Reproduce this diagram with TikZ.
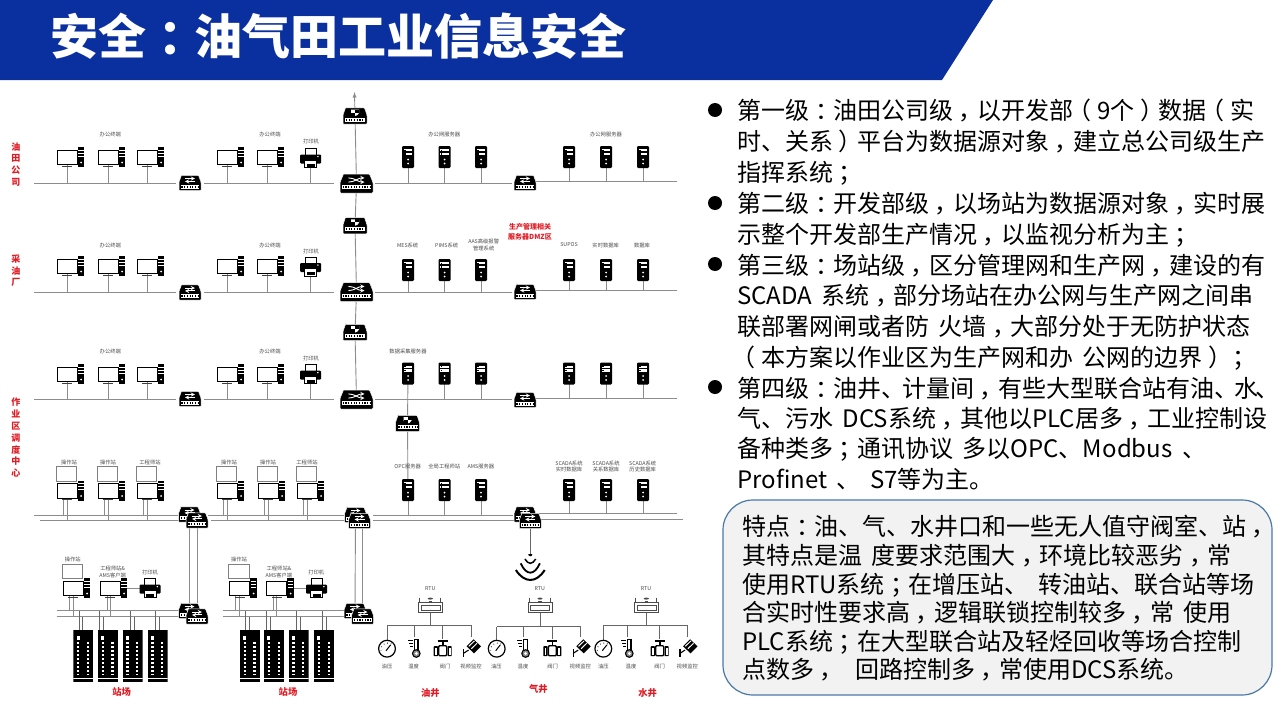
\documentclass[tikz,border=0pt]{standalone}
\usepackage{fontspec}
\setmainfont{Noto Sans CJK SC}
\usepackage{newunicodechar}
\newunicodechar{，}{\kern.24em\char"FF0C\kern-.24em}
\newunicodechar{；}{\kern.24em\char"FF1B\kern-.24em}
\newunicodechar{：}{\kern.26em\char"FF1A\kern-.26em}
\newunicodechar{（}{\kern-.24em\char"FF08\kern.24em}
\newunicodechar{）}{\kern.24em\char"FF09\kern-.24em}
\usepackage{tikz}
\pgfdeclarelayer{edgelayer}
\pgfdeclarelayer{nodelayer}
\pgfsetlayers{edgelayer,nodelayer,main}
\definecolor{headblue}{HTML}{0A2F9E}
\definecolor{wiregrey}{HTML}{8C8C8C}
\definecolor{tagred}{HTML}{E01B24}
\definecolor{tagdark}{HTML}{4A4A4A}
\definecolor{boxfill}{HTML}{F2F2F2}
\definecolor{boxline}{HTML}{4A78A8}
\newcommand{\linefont}{\fontsize{24}{24}\selectfont\spaceskip 9.5pt\relax}
\newcommand{\drawmon}{\filldraw [draw=black, fill=white, line width=1pt] (-10,-7) rectangle (10,7.5);
	\fill [black!75] (-5,8.6) rectangle (5,9.8);}
\newcommand{\drawpc}{\drawmon
	\fill [black] (10.8,-10) rectangle (17.4,10);
	\fill [white] (11.4,-7.4) rectangle (16.8,-6.6);
	\fill [white] (11.4,-4.4) rectangle (16.8,-3.6);
	\fill [white] (11.4,-1.4) rectangle (16.8,-0.6);
	\fill [white] (14.1,5.5) circle [radius=1pt];}
\newcommand{\drawupper}{\filldraw [draw=black!50, fill=white, line width=.7pt] (-11,-24) rectangle (9.5,-9.6);}
\newcommand{\drawprinter}{\filldraw [draw=black, fill=white, line width=.8pt] (-5.5,-9.5) rectangle (5.5,-2);
	\fill [black, rounded corners=1pt] (-10.5,-3.5) rectangle (10.5,5.5);
	\filldraw [draw=black, fill=white, line width=.6pt] (-6,2) rectangle (6,9.5);
	\fill [black] (-4,5.5) rectangle (4,8.8);
	\fill [white] (7.4,-1.4) circle [radius=.8pt];}
\newcommand{\drawserver}{\fill [black, rounded corners=1.2pt] (-6,-11) rectangle (6,11);
	\fill [white] (-4.4,-8) rectangle (4.4,-5.8);
	\fill [white] (-4.4,-4.2) rectangle (4.4,-2);
	\fill [black] (-3.6,-7.5) rectangle (-2.4,-6.3);
	\fill [black] (-3.6,-3.7) rectangle (-2.4,-2.5);
	\fill [white] (0,2.5) circle [radius=1pt];
	\fill [white] (0,6.5) circle [radius=1pt];}
\newcommand{\drawports}[1]{\fill [white] (-#1,1.6) rectangle (#1,5.6);
	\draw [black, line width=1.8pt, dash pattern=on 1.2pt off 1.5pt] (-#1+.8,3.6) to (#1,3.6);}
\newcommand{\drawswitch}{\filldraw [fill=black, draw=white, line width=.5pt, rounded corners=.8pt] (-8.5,-7.7) to (8.5,-7.7) to (11,-1) to (11,7.7) to (-11,7.7) to (-11,-1) to cycle;
	\drawports{9.4}
	\draw [white, line width=.9pt, -stealth] (-5,-4.5) to (5,-4.5);
	\draw [white, line width=.9pt, -stealth] (5,-1.6) to (-5,-1.6);}
\newcommand{\drawrouter}{\filldraw [fill=black, draw=white, line width=.5pt, rounded corners=.8pt] (-13,-9.5) to (13,-9.5) to (16.5,-1) to (16.5,9.5) to (-16.5,9.5) to (-16.5,-1) to cycle;
	\begin{scope}[yshift=-1.4pt]
	\drawports{14.6}
	\end{scope}
	\draw [white, line width=.9pt, -stealth] (-8,-5.6) .. controls (-2,-5.6) and (2,-1.4) .. (8,-1.4);
	\draw [white, line width=.9pt, -stealth] (-8,-1.4) .. controls (-2,-1.4) and (2,-5.6) .. (8,-5.6);}
\newcommand{\drawfirewall}{\filldraw [fill=black, draw=white, line width=.5pt, rounded corners=.8pt] (-9.5,-8.2) to (9.5,-8.2) to (12,-1) to (12,8.2) to (-12,8.2) to (-12,-1) to cycle;
	\drawports{10}
	\fill [white] (-4,-6.4) to (4,-6.4) to (4,-3) .. controls (3.4,-1) and (1.4,-.3) .. (0,0) .. controls (-1.4,-.3) and (-3.4,-1) .. (-4,-3) to cycle;
	\fill [black] (0,-6.4) rectangle (4,-3.4);
	\fill [black] (-4,-3.4) rectangle (0,0);}
\newcommand{\drawcabinet}{\fill [black] (-10,-26) rectangle (10,26);
	\fill [white] (-6.6,-20.4) rectangle (-3.6,-15.6);
	\draw [white, line width=2.2pt, dash pattern=on 2pt off 2pt] (-5,-14) to (-5,19);
	\draw [white, line width=2.2pt, dash pattern=on 2pt off 2pt] (4.6,-14) to (4.6,19);
	\draw [white, line width=.5pt] (-10,22.6) to (10,22.6);}
\newcommand{\drawrtu}{\draw [black!70, line width=.7pt, fill=white] (-12,-2.5) rectangle (12,7.5);
	\draw [black!70, line width=.6pt, fill=white] (-9.5,.5) rectangle (9.5,5.5);
	\draw [black!70, line width=.7pt] (-10.5,-7.5) to (-10.5,-2.5);
	\draw [black!70, line width=.7pt] (10.5,-7.5) to (10.5,-2.5);
	\fill [black!70] (0,-6.4) ellipse [x radius=2.6pt, y radius=1pt];
	\draw [black!70, line width=.6pt] (-1.8,-4.2) to (1.8,-4.2);}
\newcommand{\drawgauge}{\filldraw [draw=black, fill=white, line width=1.2pt] (0,0) circle [radius=8.4pt];
	\draw [black, line width=1pt] (-1,2) to (3.6,-3.8);
	\draw [black, line width=.9pt, dash pattern=on .7pt off 3pt] (-6,2) .. controls (-6.6,-6) and (2,-8.4) .. (6,-3);}
\newcommand{\drawtherm}{\draw [black, line width=1.1pt] (-6,-8) to (-1,-8);
	\draw [black, line width=1.1pt] (-5,-5) to (-1,-5);
	\draw [black, line width=1.1pt] (-4,-2) to (-1,-2);
	\draw [black, line width=1.1pt, fill=white] (.6,2) to (.6,-8.5) to (4,-8.5) to (4,2);
	\filldraw [draw=black, fill=black!45, line width=1.1pt] (2.3,5.2) circle [radius=3.8pt];
	\fill [white] (2.3,5.2) circle [radius=1.5pt];}
\newcommand{\drawvalve}{\draw [black, line width=1.6pt] (-5,-7.5) to (5,-7.5);
	\draw [black, line width=1.6pt] (0,-7.5) to (0,-3);
	\draw [black, line width=1.4pt, fill=white, rounded corners=1pt] (-4,-3) rectangle (4,7);
	\fill [black, rounded corners=.6pt] (-9,-2.5) rectangle (-4.8,7.5);
	\fill [black, rounded corners=.6pt] (4.8,-2.5) rectangle (9,7.5);
	\fill [white] (-7.8,-1) rectangle (-6,6);
	\fill [white] (6,-1) rectangle (7.8,6);}
\newcommand{\drawcamera}{\fill [black] (-4.4,-2) to (2.6,-9) to (10,-2) to (3,5) to cycle;
	\draw [white, line width=1pt] (-2.2,-2) to (3.4,-7.4);
	\draw [white, line width=1pt] (.4,.4) to (6,-5);
	\draw [black, line width=1.1pt] (-7.5,1) to (-7.5,9);
	\draw [black, line width=1.1pt] (-7.5,5) to (-2.5,1.8);}
\newcommand{\drawwifi}{\fill [black] (0,-13.7) circle [radius=2pt];
	\draw [black, line width=1.5pt] (-5.4,-9) .. controls (-2,-3.3) and (2,-3.3) .. (5.4,-9);
	\draw [black, line width=1.8pt] (-9.6,-4.7) .. controls (-4,7.8) and (4,7.8) .. (9.6,-4.7);
	\draw [black, line width=2pt] (-14.4,2) .. controls (-6,15.3) and (6,15.3) .. (14.4,2);}
\tikzset{iconpic/.style={path picture={\begin{scope}[shift={(path picture bounding box.center)}]#1\end{scope}}}}
\tikzstyle{wire}=[draw=wiregrey, line width=.9pt]
\tikzstyle{thinwire}=[draw=black!60, line width=.7pt]
\tikzstyle{icon}=[rectangle, inner sep=0pt, outer sep=0pt]
\tikzstyle{pc}=[icon, minimum width=38pt, minimum height=24pt, iconpic=\drawpc]
\tikzstyle{duopc}=[icon, minimum width=38pt, minimum height=52pt, iconpic={\drawupper\drawpc}]
\tikzstyle{printer}=[icon, minimum width=24pt, minimum height=22pt, iconpic=\drawprinter]
\tikzstyle{server}=[icon, minimum width=14pt, minimum height=24pt, iconpic=\drawserver]
\tikzstyle{switch}=[icon, minimum width=24pt, minimum height=17pt, iconpic=\drawswitch]
\tikzstyle{router}=[icon, minimum width=35pt, minimum height=21pt, iconpic=\drawrouter]
\tikzstyle{firewall}=[icon, minimum width=26pt, minimum height=18pt, iconpic=\drawfirewall]
\tikzstyle{cabinet}=[icon, minimum width=20pt, minimum height=52pt, iconpic=\drawcabinet]
\tikzstyle{rtu}=[icon, minimum width=26pt, minimum height=18pt, iconpic=\drawrtu]
\tikzstyle{gauge}=[icon, minimum width=20pt, minimum height=20pt, iconpic=\drawgauge]
\tikzstyle{therm}=[icon, minimum width=20pt, minimum height=22pt, iconpic=\drawtherm]
\tikzstyle{valve}=[icon, minimum width=20pt, minimum height=20pt, iconpic=\drawvalve]
\tikzstyle{camera}=[icon, minimum width=24pt, minimum height=22pt, iconpic=\drawcamera]
\tikzstyle{wifi}=[icon, minimum width=32pt, minimum height=28pt, iconpic=\drawwifi]
\tikzstyle{tag}=[inner sep=0pt, text=tagdark, align=center, font=\fontsize{5.3}{6.6}\selectfont]
\tikzstyle{redtag}=[inner sep=0pt, text=tagred, align=center, font=\fontsize{7}{9.6}\selectfont\bfseries]
\tikzstyle{sitetag}=[inner sep=0pt, text=tagred, font=\fontsize{9.3}{11}\selectfont\bfseries]
\tikzstyle{leveltag}=[inner sep=0pt, text=tagred, align=center, font=\fontsize{9}{11.8}\selectfont\bfseries]
\tikzstyle{point}=[circle, fill=black, inner sep=0pt, minimum size=14pt]
\tikzstyle{line}=[inner sep=0pt, anchor=base west, font=\linefont]

\begin{document}
\begin{tikzpicture}[x=1pt, y=-1pt]
	\useasboundingbox (0,0) rectangle (1280,720);
	\fill [headblue] (0,0) to (993,0) to (942,80) to (0,80) to cycle;
	\node [inner sep=0pt, anchor=base west, text=white, font=\fontsize{48}{48}\selectfont\bfseries] (title) at (50,54) {安全：油气田工业信息安全};
	% bus ends
	\coordinate (a1) at (34,183);
	\coordinate (b1) at (176,183);
	\coordinate (c1) at (204,183);
	\coordinate (d1) at (334,183);
	\coordinate (e1) at (375,183);
	\coordinate (f1) at (512,183);
	\coordinate (g1) at (536,181);
	\coordinate (h1) at (677,181);
	\coordinate (a2) at (34,292);
	\coordinate (b2) at (176,292);
	\coordinate (c2) at (204,292);
	\coordinate (d2) at (334,292);
	\coordinate (e2) at (375,292);
	\coordinate (f2) at (512,292);
	\coordinate (g2) at (536,290);
	\coordinate (h2) at (677,290);
	\coordinate (a3) at (34,399);
	\coordinate (b3) at (176,399);
	\coordinate (c3) at (204,399);
	\coordinate (d3) at (334,399);
	\coordinate (e3) at (375,399);
	\coordinate (f3) at (512,399);
	\coordinate (g3) at (536,398);
	\coordinate (h3) at (677,398);
	\coordinate (a4) at (34,515);
	\coordinate (b4) at (178,515);
	\coordinate (c4) at (208,515);
	\coordinate (d4) at (344,515);
	\coordinate (e4) at (373,515);
	\coordinate (f4) at (513,515);
	\coordinate (g4) at (535,513.5);
	\coordinate (h4) at (677,513.5);
	\coordinate (a5) at (40,520.7);
	\coordinate (b5) at (186,520.7);
	\coordinate (c5) at (211,520.7);
	\coordinate (d5) at (349,520.7);
	\coordinate (e5) at (373,520.7);
	\coordinate (f5) at (520,520.7);
	\coordinate (g5) at (540,519.3);
	\coordinate (h5) at (683,519.3);
	\coordinate (a6) at (56.7,610.7);
	\coordinate (b6) at (179,610.7);
	\coordinate (c6) at (223.3,610.7);
	\coordinate (d6) at (345,610.7);
	\coordinate (a7) at (56.7,616.7);
	\coordinate (b7) at (187,616.7);
	\coordinate (c7) at (223.3,616.7);
	\coordinate (d7) at (352,616.7);
	\coordinate (top) at (354.5,92);
	\coordinate (j1) at (430.3,625);
	\coordinate (j2) at (540,626.7);
	\coordinate (j3) at (646.3,625.7);
	\coordinate (k1) at (387,625);
	\coordinate (k2) at (471,625);
	\coordinate (m1) at (496.5,626.7);
	\coordinate (m2) at (580.5,626.7);
	\coordinate (n1) at (603.3,625.7);
	\coordinate (n2) at (687.5,625.7);
	\begin{pgfonlayer}{nodelayer}
		% office rows
		\node [style=pc] (pc11) at (67,157) {};
		\node [style=pc] (pc12) at (108,157) {};
		\node [style=pc] (pc13) at (147,157) {};
		\node [style=pc] (pc14) at (227,157) {};
		\node [style=pc] (pc15) at (267,157) {};
		\node [style=printer] (pr1) at (310.5,158) {};
		\node [style=pc] (pc21) at (67,266) {};
		\node [style=pc] (pc22) at (108,266) {};
		\node [style=pc] (pc23) at (147,266) {};
		\node [style=pc] (pc24) at (227,266) {};
		\node [style=pc] (pc25) at (267,266) {};
		\node [style=printer] (pr2) at (310.5,266.5) {};
		\node [style=pc] (pc31) at (67,374) {};
		\node [style=pc] (pc32) at (108,374) {};
		\node [style=pc] (pc33) at (147,374) {};
		\node [style=pc] (pc34) at (227,374) {};
		\node [style=pc] (pc35) at (267,374) {};
		\node [style=printer] (pr3) at (310.5,374) {};
		\node [style=duopc] (pc41) at (67,490.5) {};
		\node [style=duopc] (pc42) at (108,490.5) {};
		\node [style=duopc] (pc43) at (147,490.5) {};
		\node [style=duopc] (pc44) at (227,490.5) {};
		\node [style=duopc] (pc45) at (268,490.5) {};
		\node [style=duopc] (pc46) at (307,490.5) {};
		\node [style=duopc] (pc51) at (73,588) {};
		\node [style=pc] (pc52) at (110,588) {};
		\node [style=printer] (pr5) at (150,588) {};
		\node [style=duopc] (pc53) at (239.5,588) {};
		\node [style=pc] (pc54) at (276.5,588) {};
		\node [style=printer] (pr6) at (316.5,588) {};
		% servers
		\node [style=server] (sv11) at (408,157) {};
		\node [style=server] (sv12) at (444.5,157) {};
		\node [style=server] (sv13) at (481,157) {};
		\node [style=server] (sv14) at (569,157) {};
		\node [style=server] (sv15) at (606,157) {};
		\node [style=server] (sv16) at (643,157) {};
		\node [style=server] (sv21) at (408,270) {};
		\node [style=server] (sv22) at (444.5,270) {};
		\node [style=server] (sv23) at (481,270) {};
		\node [style=server] (sv24) at (569,270) {};
		\node [style=server] (sv25) at (606,270) {};
		\node [style=server] (sv26) at (643,270) {};
		\node [style=server] (sv31) at (408,373.5) {};
		\node [style=server] (sv32) at (444.5,373.5) {};
		\node [style=server] (sv33) at (481,373.5) {};
		\node [style=server] (sv34) at (569,373.5) {};
		\node [style=server] (sv35) at (606,373.5) {};
		\node [style=server] (sv36) at (643,373.5) {};
		\node [style=server] (sv41) at (408,490) {};
		\node [style=server] (sv42) at (444.5,490) {};
		\node [style=server] (sv43) at (481,490) {};
		\node [style=server] (sv44) at (569,490) {};
		\node [style=server] (sv45) at (606,490) {};
		\node [style=server] (sv46) at (643,490) {};
		% network gear
		\node [style=firewall] (fw1) at (355,116) {};
		\node [style=firewall] (fw2) at (355,225.7) {};
		\node [style=firewall] (fw3) at (355,332.5) {};
		\node [style=firewall] (fw4) at (407.5,423.5) {};
		\node [style=router] (rt1) at (356.5,183.5) {};
		\node [style=router] (rt2) at (356.5,292) {};
		\node [style=router] (rt3) at (356.5,399.5) {};
		\node [style=switch] (sw1) at (190,183) {};
		\node [style=switch] (sw2) at (190,292.5) {};
		\node [style=switch] (sw3) at (190,399) {};
		\node [style=switch] (sw4) at (525,183) {};
		\node [style=switch] (sw5) at (525,292) {};
		\node [style=switch] (sw6) at (525,400) {};
		\node [style=switch] (sw71) at (189.5,514.5) {};
		\node [style=switch] (sw72) at (197,520.5) {};
		\node [style=switch] (sw81) at (355.5,515) {};
		\node [style=switch] (sw82) at (359.5,521) {};
		\node [style=switch] (sw91) at (525,514.5) {};
		\node [style=switch] (sw92) at (530.3,521) {};
		\node [style=switch] (sw101) at (189.5,611) {};
		\node [style=switch] (sw102) at (197,616.5) {};
		\node [style=switch] (sw111) at (355,611) {};
		\node [style=switch] (sw112) at (362.5,616.5) {};
		\node [style=wifi] (wf) at (530.3,568) {};
		% cabinets
		\node [style=cabinet] (cb1) at (83.3,656) {};
		\node [style=cabinet] (cb2) at (107.8,656) {};
		\node [style=cabinet] (cb3) at (132.5,656) {};
		\node [style=cabinet] (cb4) at (157.5,656) {};
		\node [style=cabinet] (cb5) at (249.8,656) {};
		\node [style=cabinet] (cb6) at (274,656) {};
		\node [style=cabinet] (cb7) at (298.5,656) {};
		\node [style=cabinet] (cb8) at (324,656) {};
		% wells
		\node [style=rtu] (ru1) at (430.3,605) {};
		\node [style=rtu] (ru2) at (540,605) {};
		\node [style=rtu] (ru3) at (646.3,605) {};
		\node [style=gauge] (ga1) at (387,648.7) {};
		\node [style=therm] (th1) at (414,648.3) {};
		\node [style=valve] (va1) at (442.7,648.7) {};
		\node [style=camera] (ca1) at (471,648.3) {};
		\node [style=gauge] (ga2) at (496.7,648.7) {};
		\node [style=therm] (th2) at (523.3,648.3) {};
		\node [style=valve] (va2) at (552.3,648.7) {};
		\node [style=camera] (ca2) at (580.7,648.3) {};
		\node [style=gauge] (ga3) at (603.3,648.7) {};
		\node [style=therm] (th3) at (627,648.3) {};
		\node [style=valve] (va3) at (659.7,648.7) {};
		\node [style=camera] (ca3) at (687.5,648.3) {};
	\end{pgfonlayer}
	\begin{pgfonlayer}{edgelayer}
		\draw [style=wire] (a1) to (b1);
		\draw [style=wire] (c1) to (d1);
		\draw [style=wire] (e1) to (f1);
		\draw [style=wire] (g1) to (h1);
		\draw [style=wire] (a2) to (b2);
		\draw [style=wire] (c2) to (d2);
		\draw [style=wire] (e2) to (f2);
		\draw [style=wire] (g2) to (h2);
		\draw [style=wire] (a3) to (b3);
		\draw [style=wire] (c3) to (d3);
		\draw [style=wire] (e3) to (f3);
		\draw [style=wire] (g3) to (h3);
		\draw [style=wire] (a4) to (b4);
		\draw [style=wire] (c4) to (d4);
		\draw [style=wire] (e4) to (f4);
		\draw [style=wire] (g4) to (h4);
		\draw [style=wire] (a5) to (b5);
		\draw [style=wire] (c5) to (d5);
		\draw [style=wire] (e5) to (f5);
		\draw [style=wire] (g5) to (h5);
		\draw [style=wire] (a6) to (b6);
		\draw [style=wire] (c6) to (d6);
		\draw [style=wire] (a7) to (b7);
		\draw [style=wire] (c7) to (d7);
		% spine
		\draw [style=wire, -latex] (fw1.center) to (top);
		\draw [style=wire] (fw1.center) to (rt1.center);
		\draw [style=wire] (rt1.center) to (fw2.center);
		\draw [style=wire] (fw2.center) to (rt2.center);
		\draw [style=wire] (rt2.center) to (fw3.center);
		\draw [style=wire] (fw3.center) to (rt3.center);
		\draw [style=wire] (sv31.center) to (fw4.center);
		\draw [style=wire] (fw4.center) to (sv41.center);
		\draw [style=wire] (sw71.center) to (sw101.center);
		\draw [style=wire] (sw72.center) to (sw102.center);
		\draw [style=wire] (sw81.center) to (sw111.center);
		\draw [style=wire] ([xshift=2.5pt]sw82.center) to ([xshift=-.5pt]sw112.center);
		\draw [style=thinwire] (sw92.center) to (wf.north);
		% office stems
		\draw [style=wire] (pc11.center) to (pc11.center |- a1);
		\draw [style=wire] (pc12.center) to (pc12.center |- a1);
		\draw [style=wire] (pc13.center) to (pc13.center |- a1);
		\draw [style=wire] (pc14.center) to (pc14.center |- a1);
		\draw [style=wire] (pc15.center) to (pc15.center |- a1);
		\draw [style=wire] (pr1.center) to (pr1.center |- a1);
		\draw [style=wire] (pc21.center) to (pc21.center |- a2);
		\draw [style=wire] (pc22.center) to (pc22.center |- a2);
		\draw [style=wire] (pc23.center) to (pc23.center |- a2);
		\draw [style=wire] (pc24.center) to (pc24.center |- a2);
		\draw [style=wire] (pc25.center) to (pc25.center |- a2);
		\draw [style=wire] (pr2.center) to (pr2.center |- a2);
		\draw [style=wire] (pc31.center) to (pc31.center |- a3);
		\draw [style=wire] (pc32.center) to (pc32.center |- a3);
		\draw [style=wire] (pc33.center) to (pc33.center |- a3);
		\draw [style=wire] (pc34.center) to (pc34.center |- a3);
		\draw [style=wire] (pc35.center) to (pc35.center |- a3);
		\draw [style=wire] (pr3.center) to (pr3.center |- a3);
		% server stems
		\draw [style=wire] (sv11.center) to (sv11.center |- e1);
		\draw [style=wire] (sv12.center) to (sv12.center |- e1);
		\draw [style=wire] (sv13.center) to (sv13.center |- e1);
		\draw [style=wire] (sv14.center) to (sv14.center |- g1);
		\draw [style=wire] (sv15.center) to (sv15.center |- g1);
		\draw [style=wire] (sv16.center) to (sv16.center |- g1);
		\draw [style=wire] (sv21.center) to (sv21.center |- e2);
		\draw [style=wire] (sv22.center) to (sv22.center |- e2);
		\draw [style=wire] (sv23.center) to (sv23.center |- e2);
		\draw [style=wire] (sv24.center) to (sv24.center |- g2);
		\draw [style=wire] (sv25.center) to (sv25.center |- g2);
		\draw [style=wire] (sv26.center) to (sv26.center |- g2);
		\draw [style=wire] (sv32.center) to (sv32.center |- e3);
		\draw [style=wire] (sv33.center) to (sv33.center |- e3);
		\draw [style=wire] (sv34.center) to (sv34.center |- g3);
		\draw [style=wire] (sv35.center) to (sv35.center |- g3);
		\draw [style=wire] (sv36.center) to (sv36.center |- g3);
		\draw [style=wire] (sv41.center) to (sv41.center |- e4);
		\draw [style=wire] (sv42.center) to (sv42.center |- e4);
		\draw [style=wire] (sv43.center) to (sv43.center |- e4);
		\draw [style=wire] (sv44.center) to (sv44.center |- g4);
		\draw [style=wire] (sv45.center) to (sv45.center |- g4);
		\draw [style=wire] (sv46.center) to (sv46.center |- g4);
		% doubled stems
		\draw [style=wire] ([xshift=-4pt]pc41.center) to ([xshift=-4pt]pc41.center |- a4);
		\draw [style=wire] (pc41.center) to (pc41.center |- a5);
		\draw [style=wire] ([xshift=-4pt]pc42.center) to ([xshift=-4pt]pc42.center |- a4);
		\draw [style=wire] (pc42.center) to (pc42.center |- a5);
		\draw [style=wire] ([xshift=-4pt]pc43.center) to ([xshift=-4pt]pc43.center |- a4);
		\draw [style=wire] (pc43.center) to (pc43.center |- a5);
		\draw [style=wire] ([xshift=-4pt]pc44.center) to ([xshift=-4pt]pc44.center |- a4);
		\draw [style=wire] (pc44.center) to (pc44.center |- a5);
		\draw [style=wire] ([xshift=-4pt]pc45.center) to ([xshift=-4pt]pc45.center |- a4);
		\draw [style=wire] (pc45.center) to (pc45.center |- a5);
		\draw [style=wire] ([xshift=-4pt]pc46.center) to ([xshift=-4pt]pc46.center |- a4);
		\draw [style=wire] (pc46.center) to (pc46.center |- a5);
		\draw [style=wire] ([xshift=-4pt]pc51.center) to ([xshift=-4pt]pc51.center |- a6);
		\draw [style=wire] (pc51.center) to (pc51.center |- a7);
		\draw [style=wire] ([xshift=-3pt]pc52.center) to ([xshift=-3pt]pc52.center |- a6);
		\draw [style=wire] (pc52.center) to (pc52.center |- a7);
		\draw [style=wire] ([xshift=-4pt]pc53.center) to ([xshift=-4pt]pc53.center |- a6);
		\draw [style=wire] (pc53.center) to (pc53.center |- a7);
		\draw [style=wire] ([xshift=-3pt]pc54.center) to ([xshift=-3pt]pc54.center |- a6);
		\draw [style=wire] (pc54.center) to (pc54.center |- a7);
		\draw [style=wire] (pc52.center) to (pr5.center);
		\draw [style=wire] (pc54.center) to (pr6.center);
		% cabinet stems
		\draw [style=thinwire] ([xshift=-4.3pt]cb1.north) to ([xshift=-4.3pt]cb1.north |- a6);
		\draw [style=thinwire] ([xshift=-.6pt]cb1.north) to ([xshift=-.6pt]cb1.north |- a7);
		\draw [style=thinwire] ([xshift=-8pt]cb2.north) to ([xshift=-8pt]cb2.north |- a6);
		\draw [style=thinwire] ([xshift=-4pt]cb2.north) to ([xshift=-4pt]cb2.north |- a7);
		\draw [style=thinwire] ([xshift=-2.2pt]cb3.north) to ([xshift=-2.2pt]cb3.north |- a6);
		\draw [style=thinwire] ([xshift=1.5pt]cb3.north) to ([xshift=1.5pt]cb3.north |- a7);
		\draw [style=thinwire] ([xshift=-2.2pt]cb4.north) to ([xshift=-2.2pt]cb4.north |- a6);
		\draw [style=thinwire] ([xshift=1.5pt]cb4.north) to ([xshift=1.5pt]cb4.north |- a7);
		\draw [style=thinwire] ([xshift=-4.5pt]cb5.north) to ([xshift=-4.5pt]cb5.north |- a6);
		\draw [style=thinwire] ([xshift=-.8pt]cb5.north) to ([xshift=-.8pt]cb5.north |- a7);
		\draw [style=thinwire] ([xshift=-8pt]cb6.north) to ([xshift=-8pt]cb6.north |- a6);
		\draw [style=thinwire] ([xshift=-4pt]cb6.north) to ([xshift=-4pt]cb6.north |- a7);
		\draw [style=thinwire] ([xshift=-2.2pt]cb7.north) to ([xshift=-2.2pt]cb7.north |- a6);
		\draw [style=thinwire] ([xshift=1.8pt]cb7.north) to ([xshift=1.8pt]cb7.north |- a7);
		\draw [style=thinwire] ([xshift=-2pt]cb8.north) to ([xshift=-2pt]cb8.north |- a6);
		\draw [style=thinwire] ([xshift=2pt]cb8.north) to ([xshift=2pt]cb8.north |- a7);
		% well trees
		\draw [style=thinwire] (ru1.center) to (j1);
		\draw [style=thinwire] (ru2.center) to (j2);
		\draw [style=thinwire] (ru3.center) to (j3);
		\draw [style=thinwire] (k1) to (k2);
		\draw [style=thinwire] (m1) to (m2);
		\draw [style=thinwire] (n1) to (n2);
		\draw [style=thinwire] (ga1.center) to (ga1.center |- k1);
		\draw [style=thinwire] (th1.north) to (th1.north |- k1);
		\draw [style=thinwire] (va1.north) to (va1.north |- k1);
		\draw [style=thinwire] (ca1.north) to (ca1.north |- k1);
		\draw [style=thinwire] (ga2.center) to (ga2.center |- m1);
		\draw [style=thinwire] (th2.north) to (th2.north |- m1);
		\draw [style=thinwire] (va2.north) to (va2.north |- m1);
		\draw [style=thinwire] (ca2.north) to (ca2.north |- m1);
		\draw [style=thinwire] (ga3.center) to (ga3.center |- n1);
		\draw [style=thinwire] (th3.north) to (th3.north |- n1);
		\draw [style=thinwire] (va3.north) to (va3.north |- n1);
		\draw [style=thinwire] (ca3.north) to (ca3.north |- n1);
	\end{pgfonlayer}
	% level names
	\node [style=leveltag] (lv1) at (16,164.5) {油\\田\\公\\司};
	\node [style=leveltag] (lv2) at (16,270.7) {采\\油\\厂};
	\node [style=leveltag] (lv3) at (16,437.8) {作\\业\\区\\调\\度\\中\\心};
	% small labels
	\node [style=tag] (l1) at (110.3,134.3) {办公终端};
	\node [style=tag] (l2) at (270,134.3) {办公终端};
	\node [style=tag] (l3) at (311,141.3) {打印机};
	\node [style=tag] (l4) at (444.3,134.3) {办公网服务器};
	\node [style=tag] (l5) at (606,134.3) {办公网服务器};
	\node [style=tag] (l6) at (110.3,245) {办公终端};
	\node [style=tag] (l7) at (270,245) {办公终端};
	\node [style=tag] (l8) at (311,251) {打印机};
	\node [style=tag] (l9) at (407.7,245) {MES系统};
	\node [style=tag] (l10) at (446.7,245) {PIMS系统};
	\node [style=tag] (l11) at (483.7,245) {AAS高级报警\\管理系统};
	\node [style=tag] (l12) at (569,245) {SUPOS};
	\node [style=tag] (l13) at (605.7,245) {实时数据库};
	\node [style=tag] (l14) at (642,245) {数据库};
	\node [style=redtag] (l15) at (530,232) {生产管理相关\\服务器DMZ区};
	\node [style=tag] (l16) at (110.3,351) {办公终端};
	\node [style=tag] (l17) at (270,351) {办公终端};
	\node [style=tag] (l18) at (311,358.7) {打印机};
	\node [style=tag] (l19) at (408,351) {数据采集服务器};
	\node [style=tag] (l20) at (69,462.3) {操作站};
	\node [style=tag] (l21) at (108,462.3) {操作站};
	\node [style=tag] (l22) at (150,462.3) {工程师站};
	\node [style=tag] (l23) at (229,462.3) {操作站};
	\node [style=tag] (l24) at (268,462.3) {操作站};
	\node [style=tag] (l25) at (307,462.3) {工程师站};
	\node [style=tag] (l26) at (407.7,466.7) {OPC服务器};
	\node [style=tag] (l27) at (444.3,466.7) {全局工程师站};
	\node [style=tag] (l28) at (481,466.7) {AMS服务器};
	\node [style=tag] (l29) at (569,466.4) {SCADA系统\\实时数据库};
	\node [style=tag] (l30) at (606,466.4) {SCADA系统\\关系数据库};
	\node [style=tag] (l31) at (642.7,466.4) {SCADA系统\\历史数据库};
	\node [style=tag] (l32) at (72.7,559) {操作站};
	\node [style=tag] (l33) at (112.7,571.8) {工程师站\&\\AMS客户端};
	\node [style=tag] (l34) at (150,572.3) {打印机};
	\node [style=tag] (l35) at (239,559) {操作站};
	\node [style=tag] (l36) at (279,571.8) {工程师站\&\\AMS客户端};
	\node [style=tag] (l37) at (316.3,572.3) {打印机};
	\node [style=sitetag] (s1) at (121.7,692) {站场};
	\node [style=sitetag] (s2) at (288,692) {站场};
	\node [style=sitetag] (s3) at (430.3,692.7) {油井};
	\node [style=sitetag] (s4) at (538.3,689) {气井};
	\node [style=sitetag] (s5) at (647.7,692.7) {水井};
	\node [style=tag] (r1) at (430.3,588.3) {RTU};
	\node [style=tag] (r2) at (539.7,588.3) {RTU};
	\node [style=tag] (r3) at (646,588.3) {RTU};
	\node [style=tag] (w1) at (387,666) {油压};
	\node [style=tag] (w2) at (413.7,666) {温度};
	\node [style=tag] (w3) at (445,666) {阀门};
	\node [style=tag] (w4) at (471,666) {视频监控};
	\node [style=tag] (w5) at (496.3,666) {油压};
	\node [style=tag] (w6) at (523,666) {温度};
	\node [style=tag] (w7) at (552.7,666) {阀门};
	\node [style=tag] (w8) at (580.3,666) {视频监控};
	\node [style=tag] (w9) at (603.3,666) {油压};
	\node [style=tag] (w10) at (631,666) {温度};
	\node [style=tag] (w11) at (659.7,666) {阀门};
	\node [style=tag] (w12) at (687.3,666) {视频监控};
	% text column
	\node [style=point] (p1) at (715,110) {};
	\node [style=point] (p2) at (715,203) {};
	\node [style=point] (p3) at (715,264) {};
	\node [style=point] (p4) at (715,387) {};
	\node [style=line] (t1) at (737,119) {第一级：油田公司级，以开发部（9个）数据（实};
	\node [style=line] (t2) at (737,150) {时、关系）平台为数据源对象，建立总公司级生产};
	\node [style=line] (t3) at (737,181) {指挥系统；};
	\node [style=line] (t4) at (737,212) {第二级：开发部级，以场站为数据源对象，实时展};
	\node [style=line] (t5) at (737,243) {示整个开发部生产情况，以监视分析为主；};
	\node [style=line] (t6) at (737,274) {第三级：场站级，区分管理网和生产网，建设的有};
	\node [style=line] (t7) at (737,304) {SCADA 系统，部分场站在办公网与生产网之间串};
	\node [style=line] (t8) at (737,335) {联部署网闸或者防 火墙，大部分处于无防护状态};
	\node [style=line] (t9) at (737,366) {（本方案以作业区为生产网和办 公网的边界）；};
	\node [style=line] (t10) at (737,397) {第四级：油井、\kern-3.2pt 计量间，有些大型联合站有油、\kern-3.2pt 水\kern-3.2pt 、};
	\node [style=line] (t11) at (737,427) {气、污水 DCS系统，其他以PLC居多，工业控制设};
	\node [style=line] (t12) at (737,457) {备种类多；通讯协议 多以OPC、Modbus 、};
	\node [style=line] (t13) at (737,488) {Profinet 、 S7等为主。};
	\node [draw=boxline, fill=boxfill, line width=1.2pt, rounded corners=30pt, minimum width=549pt, minimum height=195pt, inner sep=0pt] (note) at (997.5,597.5) {};
	\node [style=line] (u1) at (742,535) {特点：油、气、水井口和一些无人值守阀室、站，};
	\node [style=line] (u2) at (742,564) {其特点是温 度要求范围大，环境比较恶劣，常};
	\node [style=line] (u3) at (742,593) {使用RTU系统；在增压站、 转油站、联合站等场};
	\node [style=line] (u4) at (742,621) {合实时性要求高，逻辑联锁控制较多，常 使用};
	\node [style=line] (u5) at (742,650) {PLC系统；在大型联合站及轻烃回收等场合控制};
	\node [style=line] (u6) at (742,678) {点数多，\hspace{17pt}回路控制多，常使用DCS系统。};
\end{tikzpicture}
\end{document}
